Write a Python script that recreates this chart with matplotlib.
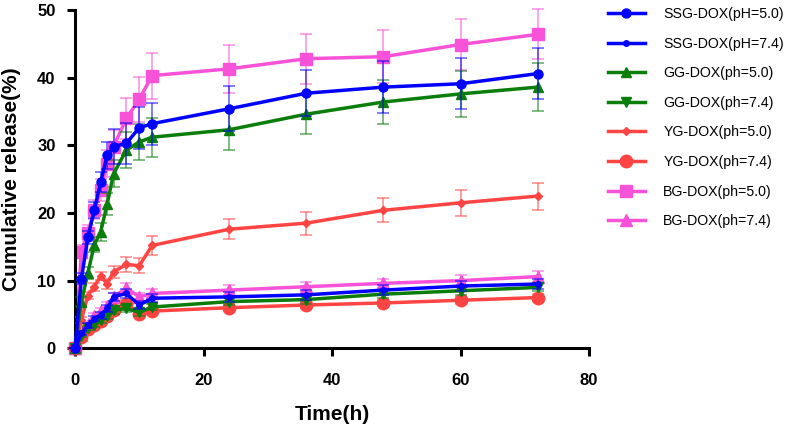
import matplotlib
matplotlib.use("Agg")
import matplotlib.pyplot as plt
import numpy as np

plt.rcParams['font.family'] = ['Liberation Sans', 'DejaVu Sans']

time_h = [0, 1, 2, 3, 4, 5, 6, 8, 10, 12, 24, 36, 48, 60, 72]

ssg_50 = [0, 10.3, 16.4, 20.4, 24.6, 28.5, 29.8, 30.3, 32.6, 33.2, 35.4, 37.7, 38.6, 39.1, 40.6]
ssg_50_err = [0, 0.8, 1.0, 1.2, 1.5, 2.0, 2.6, 3.0, 3.1, 3.1, 3.3, 3.4, 3.8, 3.8, 3.8]
ssg_74 = [0, 2.2, 3.4, 4.4, 4.9, 5.9, 7.6, 8.1, 6.4, 7.4, 7.6, 7.9, 8.6, 9.2, 9.5]
ssg_74_err = [0, 0.3, 0.4, 0.4, 0.5, 0.5, 0.6, 0.7, 0.6, 0.6, 0.7, 0.7, 0.7, 0.8, 0.8]
gg_50 = [0, 6.9, 11.1, 15.3, 17.2, 21.3, 25.8, 29.3, 30.5, 31.2, 32.3, 34.6, 36.4, 37.6, 38.6]
gg_50_err = [0, 0.7, 0.9, 1.1, 1.3, 1.6, 2.0, 2.7, 2.6, 2.9, 3.0, 3.0, 3.2, 3.4, 3.5]
gg_74 = [0, 1.8, 3.0, 3.4, 4.2, 4.7, 5.6, 5.9, 5.3, 6.1, 6.9, 7.2, 8.0, 8.5, 9.0]
gg_74_err = [0, 0.2, 0.3, 0.3, 0.4, 0.4, 0.5, 0.5, 0.5, 0.5, 0.5, 0.6, 0.6, 0.6, 0.6]
yg_50 = [0, 4.2, 7.8, 9.1, 10.7, 9.5, 11.3, 12.4, 12.2, 15.2, 17.6, 18.5, 20.4, 21.5, 22.5]
yg_50_err = [0, 0.4, 0.5, 0.6, 0.6, 0.7, 0.9, 1.1, 1.1, 1.35, 1.5, 1.7, 1.8, 1.9, 2.0]
yg_74 = [0, 1.7, 2.8, 3.5, 4.0, 4.7, 5.6, 6.6, 5.1, 5.5, 6.0, 6.4, 6.7, 7.1, 7.5]
yg_74_err = [0, 0.2, 0.3, 0.3, 0.3, 0.4, 0.4, 0.5, 0.4, 0.4, 0.5, 0.5, 0.5, 0.5, 0.5]
bg_50 = [0, 14.3, 17.0, 20.5, 23.4, 27.3, 29.8, 34.0, 36.8, 40.3, 41.3, 42.8, 43.1, 44.9, 46.4]
bg_50_err = [0, 1.0, 1.2, 1.4, 1.6, 2.0, 2.5, 3.0, 3.3, 3.4, 3.6, 3.7, 3.9, 3.8, 3.7]
bg_74 = [0, 2.0, 3.5, 4.8, 5.5, 6.3, 7.6, 8.9, 7.6, 8.1, 8.6, 9.1, 9.6, 10.0, 10.6]
bg_74_err = [0, 0.3, 0.4, 0.4, 0.5, 0.5, 0.6, 0.7, 0.6, 0.6, 0.7, 0.7, 0.7, 0.8, 0.8]

labels = ['SSG-DOX(pH=5.0)', 'SSG-DOX(pH=7.4)', 'GG-DOX(ph=5.0)', 'GG-DOX(ph=7.4)',
          'YG-DOX(ph=5.0)', 'YG-DOX(ph=7.4)', 'BG-DOX(ph=5.0)', 'BG-DOX(ph=7.4)']

BLUE = '#0000ff'
GREEN = '#0b7d0b'
RED = '#ff4444'
PINK = '#f752d8'

series = [
    (ssg_50, ssg_50_err, BLUE, 'o', 6.5, 8),
    (ssg_74, ssg_74_err, BLUE, 'o', 4, 7),
    (gg_50, gg_50_err, GREEN, '^', 6.5, 6),
    (gg_74, gg_74_err, GREEN, 'v', 6.5, 5),
    (yg_50, yg_50_err, RED, 'D', 4, 4),
    (yg_74, yg_74_err, RED, 'o', 9, 3),
    (bg_50, bg_50_err, PINK, 's', 9, 2),
    (bg_74, bg_74_err, PINK, '^', 9, 1),
]

fig = plt.figure(figsize=(7.87, 4.32), dpi=100)
ax = fig.add_axes([75/787, 1-348.3/432, (589-75)/787, (348.3-10)/432])

handles = []
for (vals, errs, col, mk, ms, z), lab in zip(series, labels):
    ax.errorbar(time_h, vals, yerr=errs, fmt='none', ecolor=col, elinewidth=1.2,
                capsize=4, capthick=1.2, alpha=0.6, zorder=z, clip_on=False)
    h, = ax.plot(time_h, vals, color=col, marker=mk, markersize=ms, linewidth=2.5,
                 label=lab, zorder=z + 0.5, clip_on=False)
    handles.append(h)

ax.set_xlim(0, 80)
ax.set_ylim(0, 50)
ax.set_xticks([0, 20, 40, 60, 80])
ax.set_yticks([0, 10, 20, 30, 40, 50])
for s in ['top', 'right']:
    ax.spines[s].set_visible(False)
for s in ['left', 'bottom']:
    ax.spines[s].set_linewidth(2.2)
ax.tick_params(axis='both', width=2.2, length=6, labelsize=12)
ax.tick_params(axis='x', pad=12)
ax.tick_params(axis='y', pad=8)
for t in ax.get_xticklabels() + ax.get_yticklabels():
    t.set_fontweight('bold')
ax.set_xlabel('Time(h)', fontsize=15, fontweight='bold', labelpad=12)
ax.set_ylabel('Cumulative release(%)', fontsize=15, fontweight='bold', labelpad=12)

fig.legend(handles=handles, labels=labels, loc='upper left',
           bbox_to_anchor=(608/787, 1 - 7/432), frameon=False, fontsize=10.2,
           handlelength=2.6, handletextpad=1.3, labelspacing=1.1,
           borderpad=0, borderaxespad=0)

fig.savefig('out.png', dpi=100)
